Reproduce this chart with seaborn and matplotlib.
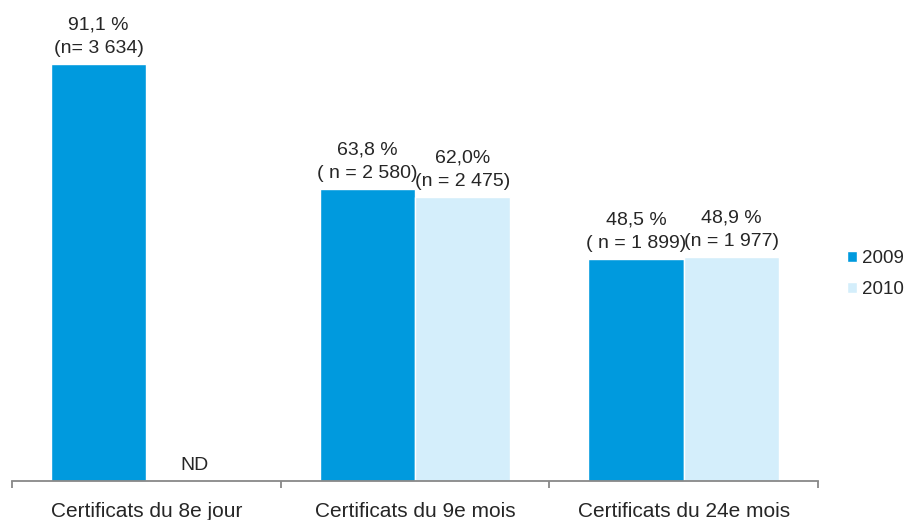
import pandas as pd
import matplotlib
matplotlib.use("Agg")
import matplotlib.pyplot as plt
import seaborn as sns

# Data
categories = ["Certificats du 8e jour", "Certificats du 9e mois", "Certificats du 24e mois"]
years = ["2009", "2010"]
pct_2009 = [91.1, 63.8, 48.5]
pct_2010 = [0.0, 62.0, 48.9]  # 8e jour 2010 not available (ND)
labels_2009 = ["91,1 %\n(n= 3 634)", "63,8 %\n( n = 2 580)", "48,5 %\n( n = 1 899)"]
labels_2010 = ["ND", "62,0%\n(n = 2 475)", "48,9 %\n(n = 1 977)"]

df = pd.DataFrame({
    "categorie": categories * 2,
    "annee": [years[0]] * 3 + [years[1]] * 3,
    "pct": pct_2009 + pct_2010,
})

sns.set_style("white")
plt.rcParams["font.family"] = ["Liberation Sans", "DejaVu Sans"]

fig = plt.figure(figsize=(9.07, 5.2), dpi=100)
ax = fig.add_axes([12 / 907, 39.3 / 520, (818 - 12) / 907, 480.7 / 520])

palette = {"2009": "#009ADE", "2010": "#D4EEFB"}
sns.barplot(data=df, x="categorie", y="pct", hue="annee", palette=palette,
            width=0.71, saturation=1, ax=ax, errorbar=None)

# Labels above bars
for cont, labs in zip(ax.containers, [labels_2009, labels_2010]):
    ax.bar_label(cont, labels=labs, padding=5, fontsize=14, linespacing=1.5)

ax.set_ylim(0, 105.1)
ax.set_xlim(-0.5, len(categories) - 0.5)
ax.set_xlabel("")
ax.set_ylabel("")
ax.set_yticks([])

for s in ["top", "right", "left"]:
    ax.spines[s].set_visible(False)
ax.spines["bottom"].set_color("#888888")
ax.spines["bottom"].set_linewidth(1.3)

# Category separators as minor ticks
ax.set_xticks([i - 0.5 for i in range(len(categories) + 1)], minor=True)
ax.tick_params(axis="x", which="minor", bottom=True, length=5, width=1.3,
               color="#888888", direction="out")
ax.tick_params(axis="x", which="major", length=0, pad=15, labelsize=15)

# Legend
if ax.get_legend() is not None:
    ax.get_legend().remove()
handles, leg_labels = ax.get_legend_handles_labels()
fig.legend(handles, leg_labels, loc="center left", bbox_to_anchor=(847 / 907, 1 - 274 / 520),
           frameon=False, fontsize=13.5, handlelength=0.53, handleheight=0.53,
           handletextpad=0.27, labelspacing=0.78, borderpad=0, borderaxespad=0)

fig.savefig("out.png", dpi=100)
